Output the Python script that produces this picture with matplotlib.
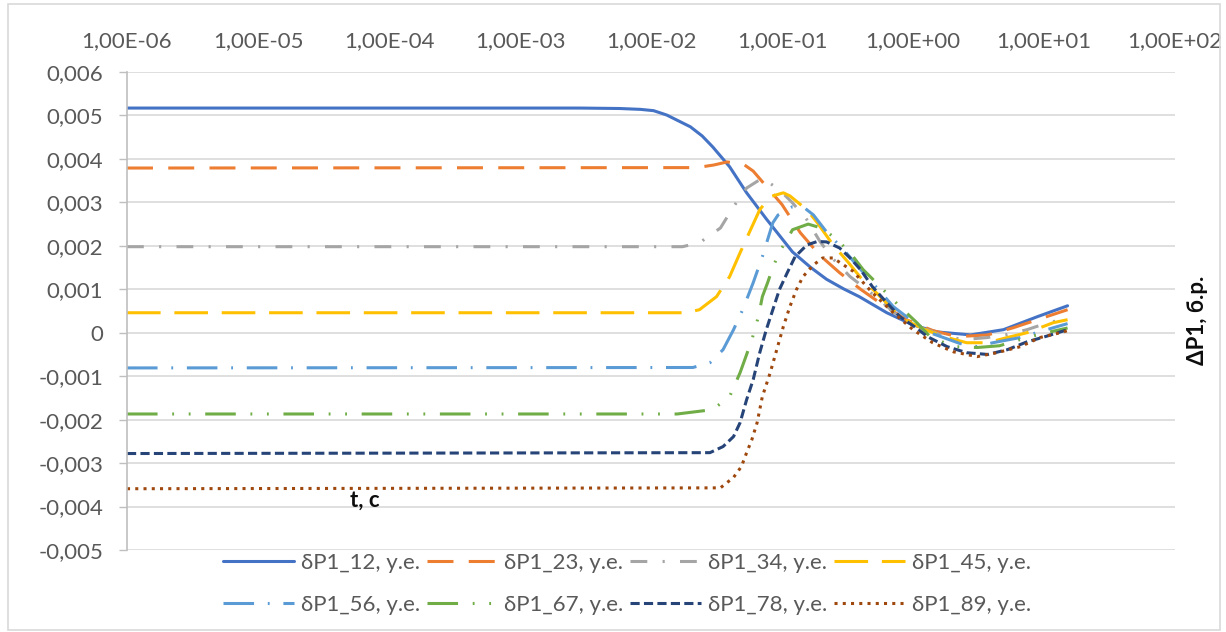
import numpy as np
import matplotlib.pyplot as plt
from matplotlib.ticker import FixedLocator, FuncFormatter, NullLocator
from matplotlib.patches import Rectangle

# exponents of t (log10 seconds) and values
lg_12 = [-6, -2.54, -2.24, -2.08, -1.98, -1.88, -1.78, -1.70, -1.61, -1.53, -1.40,
         -1.27, -1.12, -0.92, -0.78, -0.66, -0.53, -0.41, -0.20, 0.0, 0.18, 0.44,
         0.69, 0.95, 1.18]
p_12 = [0.00517, 0.00517, 0.00516, 0.00514, 0.00511, 0.00501, 0.00486, 0.00474,
        0.00453, 0.00428, 0.00382, 0.00322, 0.00262, 0.00186, 0.00150, 0.00123,
        0.00101, 0.00083, 0.00046, 0.00018, 0.00002, -0.00005, 0.00007, 0.00037,
        0.00062]

lg_23 = [-6, -1.65, -1.52, -1.42, -1.30, -1.22, -1.12, -1.0, -0.86, -0.71, -0.56,
         -0.40, -0.23, -0.05, 0.15, 0.34, 0.57, 0.76, 0.95, 1.18]
p_23 = [0.00379, 0.00380, 0.00386, 0.00393, 0.00389, 0.00372, 0.00337, 0.00295,
        0.00230, 0.00178, 0.00138, 0.00100, 0.00064, 0.00030, 0.00005, -0.00009,
        -0.00005, 0.00011, 0.00030, 0.00053]

lg_34 = [-6, -1.76, -1.63, -1.47, -1.37, -1.27, -1.15, -1.02, -0.92, -0.81, -0.71,
         -0.61, -0.48, -0.35, -0.23, -0.08, 0.0, 0.21, 0.38, 0.57, 0.72, 0.87, 1.05, 1.18]
p_34 = [0.00198, 0.00198, 0.00207, 0.00241, 0.00290, 0.00333, 0.00356, 0.00329,
        0.00299, 0.00260, 0.00210, 0.00170, 0.00129, 0.00099, 0.00069, 0.00030,
        0.00020, -0.00005, -0.00016, -0.00011, -0.00004, 0.00007, 0.00025, 0.00030]

lg_45 = [-6, -1.73, -1.63, -1.50, -1.40, -1.32, -1.24, -1.17, -1.09, -0.99, -0.94,
         -0.81, -0.73, -0.61, -0.50, -0.40, -0.28, -0.15, -0.02, 0.11, 0.26, 0.41,
         0.57, 0.72, 0.87, 1.07, 1.18]
p_45 = [0.00046, 0.00046, 0.00053, 0.00083, 0.00129, 0.00184, 0.00237, 0.00283,
        0.00313, 0.00322, 0.00315, 0.00283, 0.00253, 0.00202, 0.00164, 0.00127,
        0.00092, 0.00053, 0.00023, 0.00005, -0.00011, -0.00023, -0.00023, -0.00011,
        0.0, 0.00023, 0.00030]

lg_56 = [-6, -1.68, -1.55, -1.45, -1.37, -1.30, -1.22, -1.15, -1.07, -1.03, -0.92,
         -0.84, -0.76, -0.66, -0.53, -0.43, -0.31, -0.15, -0.02, 0.13, 0.36, 0.49,
         0.61, 0.82, 1.02, 1.18]
p_56 = [-0.00081, -0.00080, -0.00069, -0.00039, 0.00007, 0.00053, 0.00115, 0.00175,
        0.00253, 0.00271, 0.00290, 0.00290, 0.00271, 0.00232, 0.00191, 0.00156,
        0.00115, 0.00060, 0.00030, 0.0, -0.00025, -0.00032, -0.00023, -0.00011,
        0.00007, 0.00021]

lg_67 = [-6, -1.80, -1.53, -1.40, -1.32, -1.27, -1.23, -1.18, -1.15, -1.11, -1.07,
         -1.02, -0.96, -0.92, -0.80, -0.69, -0.58, -0.48, -0.38, -0.25, -0.10, 0.03,
         0.13, 0.31, 0.49, 0.66, 0.87, 1.02, 1.18]
p_67 = [-0.00187, -0.00187, -0.00177, -0.00147, -0.00092, -0.00050, -0.00016,
        0.00037, 0.00083, 0.00115, 0.00150, 0.00186, 0.00215, 0.00237, 0.00250,
        0.00240, 0.00214, 0.00184, 0.00145, 0.00106, 0.00060, 0.00023, -0.00009,
        -0.00032, -0.00034, -0.00030, -0.00011, 0.0, 0.00011]

lg_78 = [-6, -1.55, -1.45, -1.37, -1.32, -1.27, -1.22, -1.17, -1.12, -1.07, -1.02,
         -0.96, -0.90, -0.81, -0.73, -0.66, -0.56, -0.48, -0.40, -0.31, -0.20, -0.10,
         0.03, 0.11, 0.26, 0.41, 0.57, 0.72, 0.87, 1.02, 1.18]
p_78 = [-0.00278, -0.00276, -0.00262, -0.00239, -0.00207, -0.00154, -0.00108,
        -0.00046, 0.00007, 0.00053, 0.00099, 0.00138, 0.00175, 0.00202, 0.00210,
        0.00209, 0.00195, 0.00172, 0.00145, 0.00106, 0.00069, 0.00037, 0.00010,
        -0.00009, -0.00032, -0.00046, -0.00050, -0.00039, -0.00021, -0.00008, 0.00007]

lg_89 = [-6, -1.47, -1.42, -1.37, -1.31, -1.27, -1.23, -1.19, -1.15, -1.09, -1.04,
         -0.99, -0.94, -0.89, -0.84, -0.76, -0.69, -0.61, -0.46, -0.31, -0.15, 0.0,
         0.15, 0.31, 0.49, 0.64, 0.82, 0.97, 1.15, 1.18]
p_89 = [-0.00359, -0.00357, -0.00345, -0.00333, -0.00308, -0.00276, -0.00246,
        -0.00207, -0.00147, -0.00092, -0.00039, 0.00014, 0.00060, 0.00099, 0.00129,
        0.00156, 0.00172, 0.00172, 0.00142, 0.00092, 0.00046, 0.00007, -0.00023,
        -0.00044, -0.00055, -0.00046, -0.00032, -0.00011, 0.00002, 0.00005]

labels = ["δP1_12, у.е.", "δP1_23, у.е.", "δP1_34, у.е.", "δP1_45, у.е.",
          "δP1_56, у.е.", "δP1_67, у.е.", "δP1_78, у.е.", "δP1_89, у.е."]
x_ticks = [1e-6, 1e-5, 1e-4, 1e-3, 1e-2, 1e-1, 1e0, 1e1, 1e2]
y_ticks = [-0.005, -0.004, -0.003, -0.002, -0.001, 0, 0.001, 0.002, 0.003,
           0.004, 0.005, 0.006]

plt.rcParams['font.family'] = ['Lato', 'DejaVu Sans']
plt.rcParams['axes.unicode_minus'] = False
fs = 16

colors = ['#4472c4', '#ed7d31', '#a5a5a5', '#ffc000',
          '#5b9bd5', '#70ad47', '#264478', '#9e480e']
# dash patterns in units of line width
dash = [None, (8.5, 5), (5.5, 5, 0.7, 5), (11, 4.5),
        (10, 4.5, 0.6, 4.5), (10, 4.8, 0.6, 4.8, 0.6, 4.8), (3, 1.4), (1, 1.7)]

series = [(lg_12, p_12), (lg_23, p_23), (lg_34, p_34), (lg_45, p_45),
          (lg_56, p_56), (lg_67, p_67), (lg_78, p_78), (lg_89, p_89)]

fig = plt.figure(figsize=(12.26, 6.32), dpi=100)
ax = fig.add_axes([127 / 1226, 1 - 550 / 632, (1175 - 127) / 1226, (550 - 72) / 632])

lw = 2.2
handles = []
for (lg, p), c, d, lb in zip(series, colors, dash, labels):
    t = 10.0 ** np.array(lg)
    line, = ax.plot(t, p, color=c, lw=lw, label=lb, solid_capstyle='round')
    if d is not None:
        line.set_dashes(d)
    handles.append(line)

ax.set_xscale('log')
ax.set_xlim(1e-6, 1e2)
ax.set_ylim(-0.005, 0.006)
ax.xaxis.set_major_locator(FixedLocator(x_ticks))
ax.xaxis.set_minor_locator(NullLocator())
ax.xaxis.set_major_formatter(FuncFormatter(lambda v, pos: f"{v:.2E}".replace('.', ',')))
ax.xaxis.tick_top()
ax.tick_params(axis='x', length=0, pad=15, labelsize=fs, labelcolor='#595959')

ax.yaxis.set_major_locator(FixedLocator(y_ticks))
ax.yaxis.set_major_formatter(FuncFormatter(
    lambda v, pos: "0" if abs(v) < 1e-12 else f"{v:.3f}".replace('.', ',')))
ax.tick_params(axis='y', length=6, width=1, color='#bfbfbf', direction='out',
               pad=11, labelsize=fs, labelcolor='#595959')
ax.grid(axis='y', color='#d9d9d9', lw=1.2)
ax.set_axisbelow(True)
for s in ['top', 'right', 'bottom']:
    ax.spines[s].set_visible(False)
ax.spines['left'].set_color('#bfbfbf')
ax.spines['left'].set_linewidth(1.2)

fig.text(365 / 1226, 1 - 500 / 632, "t, c", ha='center', va='center',
         fontsize=fs, fontweight='bold', color='#0d0d0d')
fig.text(1198 / 1226, 1 - 320 / 632, "ΔP1, б.р.", rotation=90, ha='center',
         va='center', fontsize=fs, fontweight='bold', color='#0d0d0d')

# legend fills column by column, so reorder to read row by row
order = [0, 4, 1, 5, 2, 6, 3, 7]
leg = fig.legend([handles[i] for i in order], [labels[i] for i in order],
                 loc='center', bbox_to_anchor=(627 / 1226, 1 - 584 / 632), ncol=4,
                 frameon=False, fontsize=fs, handlelength=3.2, handletextpad=0.3,
                 columnspacing=0.3, labelspacing=1.0)
for txt in leg.get_texts():
    txt.set_color('#595959')

fig.patches.append(Rectangle((8 / 1226, 2 / 632), 1212 / 1226, 626 / 632,
                             transform=fig.transFigure, fill=False,
                             edgecolor='#d9d9d9', lw=1.2))

fig.savefig('out.png', dpi=100)
